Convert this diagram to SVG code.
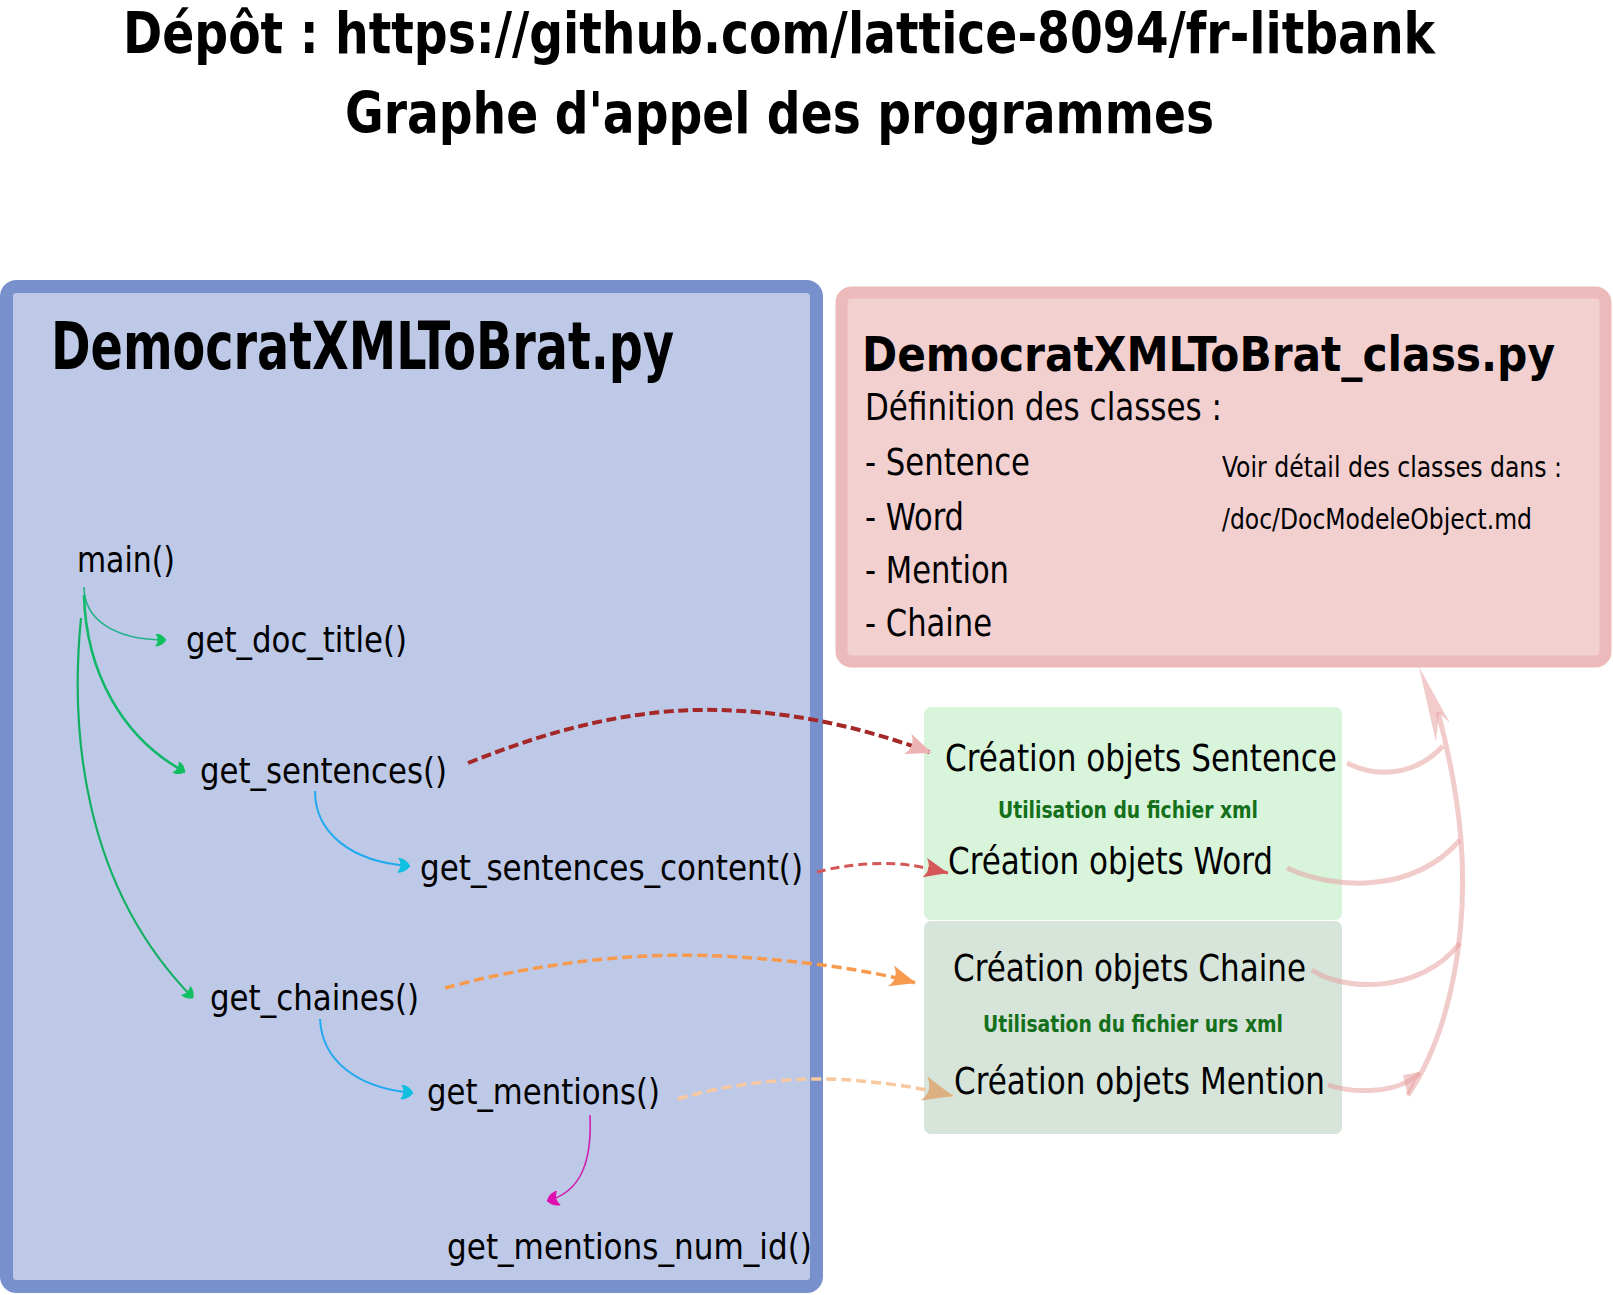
<svg xmlns="http://www.w3.org/2000/svg" width="1613" height="1295" viewBox="0 0 1613 1295">
<style>
text{font-family:"DejaVu Sans Condensed","DejaVu Sans","Liberation Sans",sans-serif;font-stretch:condensed;fill:#000}
.b{font-weight:bold}
.ttl{font-size:57px;font-weight:bold}
.fn{font-size:35px}
.cls{font-size:37px}
.sm{font-size:28px}
.cr{font-size:38px}
.ut{font-size:23px;font-weight:bold;fill:#14701a}
.thin{fill:none;stroke-linecap:butt}
.pink{fill:none;stroke:#e8a0a0;stroke-opacity:.55;stroke-width:5}
</style>
<defs>
<marker id="mSent" markerUnits="userSpaceOnUse" viewBox="-12 -6 12 12" refX="0" refY="0" markerWidth="26" markerHeight="26" orient="auto"><path d="M0,0 L-12,-5 Q-8,0 -12,5 Z" fill="#eeb4b4"/></marker>
<marker id="mWord" markerUnits="userSpaceOnUse" viewBox="-12 -6 12 12" refX="0" refY="0" markerWidth="24" markerHeight="24" orient="auto"><path d="M0,0 L-12,-5 Q-8,0 -12,5 Z" fill="#d45858"/></marker>
<marker id="mChaine" markerUnits="userSpaceOnUse" viewBox="-12 -6 12 12" refX="0" refY="0" markerWidth="26" markerHeight="26" orient="auto"><path d="M0,0 L-12,-5 Q-8,0 -12,5 Z" fill="#f89a4e"/></marker>
<marker id="mMention" markerUnits="userSpaceOnUse" viewBox="-12 -6 12 12" refX="0" refY="0" markerWidth="30" markerHeight="30" orient="auto"><path d="M0,0 L-12,-5 Q-8,0 -12,5 Z" fill="#dcb080"/></marker>
<marker id="mGreen" markerUnits="userSpaceOnUse" viewBox="-12 -6 12 12" refX="0" refY="0" markerWidth="13" markerHeight="13" orient="auto"><path d="M0,0 C-2,-4 -6,-6 -10,-6 C-7,-2 -7,2 -10,6 C-6,6 -2,4 0,0 Z" fill="#10c060"/></marker>
<marker id="mCyan" markerUnits="userSpaceOnUse" viewBox="-12 -6 12 12" refX="0" refY="0" markerWidth="15" markerHeight="15" orient="auto"><path d="M0,0 C-2,-4 -6,-6 -10,-6 C-7,-2 -7,2 -10,6 C-6,6 -2,4 0,0 Z" fill="#10c0e0"/></marker>
<marker id="mMag" markerUnits="userSpaceOnUse" viewBox="-12 -6 12 12" refX="0" refY="0" markerWidth="15" markerHeight="15" orient="auto"><path d="M0,0 C-2,-4 -6,-6 -10,-6 C-7,-2 -7,2 -10,6 C-6,6 -2,4 0,0 Z" fill="#e010b0"/></marker>
</defs>

<g id="title">
<text class="ttl" x="123" y="53" textLength="1312" lengthAdjust="spacingAndGlyphs">Dépôt : https://github.com/lattice-8094/fr-litbank</text>
<text class="ttl" x="345" y="133" textLength="869" lengthAdjust="spacingAndGlyphs">Graphe d'appel des programmes</text>
</g>

<g id="DemocratXMLToBrat">
<rect x="6.5" y="286.5" width="810" height="1000" rx="10" fill="#bec9e8" stroke="#7890cb" stroke-width="13"/>
<text class="b" x="51" y="369" font-size="66" textLength="623" lengthAdjust="spacingAndGlyphs">DemocratXMLToBrat.py</text>
</g>

<g id="DemocratXMLToBrat_class">
<rect x="841.5" y="292.5" width="764" height="369" rx="10" fill="#f2d0d0" stroke="#ecbaba" stroke-width="12"/>
<text class="b" x="862" y="371" font-size="48" textLength="693" lengthAdjust="spacingAndGlyphs">DemocratXMLToBrat_class.py</text>
<text class="cls" x="865" y="420" textLength="357" lengthAdjust="spacingAndGlyphs">Définition des classes :</text>
<text class="cls" x="865" y="475" textLength="165" lengthAdjust="spacingAndGlyphs">- Sentence</text>
<text class="cls" x="865" y="530" textLength="99" lengthAdjust="spacingAndGlyphs">- Word</text>
<text class="cls" x="865" y="583" textLength="144" lengthAdjust="spacingAndGlyphs">- Mention</text>
<text class="cls" x="865" y="636" textLength="127" lengthAdjust="spacingAndGlyphs">- Chaine</text>
<text class="sm" x="1222" y="477" textLength="340" lengthAdjust="spacingAndGlyphs">Voir détail des classes dans :</text>
<text class="sm" x="1222" y="529" textLength="310" lengthAdjust="spacingAndGlyphs">/doc/DocModeleObject.md</text>
</g>

<g id="creation-xml">
<rect x="924" y="707" width="418" height="213" rx="7" fill="#d8f5dc"/>
<text class="cr" x="945" y="771" textLength="392" lengthAdjust="spacingAndGlyphs">Création objets Sentence</text>
<text class="ut" x="998" y="818" textLength="260" lengthAdjust="spacingAndGlyphs">Utilisation du fichier xml</text>
<text class="cr" x="948" y="874" textLength="325" lengthAdjust="spacingAndGlyphs">Création objets Word</text>
</g>

<g id="creation-urs">
<rect x="924" y="921" width="418" height="213" rx="7" fill="#d6e4da"/>
<text class="cr" x="953" y="981" textLength="353" lengthAdjust="spacingAndGlyphs">Création objets Chaine</text>
<text class="ut" x="983" y="1032" textLength="300" lengthAdjust="spacingAndGlyphs">Utilisation du fichier urs xml</text>
<text class="cr" x="954" y="1094" textLength="371" lengthAdjust="spacingAndGlyphs">Création objets Mention</text>
</g>

<g id="fn-main"><text class="fn" x="77" y="572" textLength="98" lengthAdjust="spacingAndGlyphs">main()</text></g>
<g id="fn-get_doc_title"><text class="fn" x="186" y="652" textLength="221" lengthAdjust="spacingAndGlyphs">get_doc_title()</text></g>
<g id="fn-get_sentences"><text class="fn" x="200" y="783" textLength="247" lengthAdjust="spacingAndGlyphs">get_sentences()</text></g>
<g id="fn-get_sentences_content"><text class="fn" x="420" y="880" textLength="383" lengthAdjust="spacingAndGlyphs">get_sentences_content()</text></g>
<g id="fn-get_chaines"><text class="fn" x="210" y="1010" textLength="209" lengthAdjust="spacingAndGlyphs">get_chaines()</text></g>
<g id="fn-get_mentions"><text class="fn" x="427" y="1104" textLength="233" lengthAdjust="spacingAndGlyphs">get_mentions()</text></g>
<g id="fn-get_mentions_num_id"><text class="fn" x="447" y="1259" textLength="365" lengthAdjust="spacingAndGlyphs">get_mentions_num_id()</text></g>

<g id="connectors">
<path class="thin" d="M84,587 C84,618 112,640 166,640" stroke="#22b088" stroke-width="1.6" marker-end="url(#mGreen)"/>
<path class="thin" d="M84,595 C86,672 122,738 185,772" stroke="#12b86a" stroke-width="2.6" marker-end="url(#mGreen)"/>
<path class="thin" d="M81,618 C70,730 82,885 193,998" stroke="#10b060" stroke-width="2.2" marker-end="url(#mGreen)"/>
<path class="thin" d="M315,791 C315,832 350,862 410,866" stroke="#22aaee" stroke-width="2" marker-end="url(#mCyan)"/>
<path class="thin" d="M320,1019 C322,1060 356,1088 413,1093" stroke="#22aaee" stroke-width="2" marker-end="url(#mCyan)"/>
<path class="thin" d="M590,1115 C592,1160 582,1192 547,1201" stroke="#d020b0" stroke-width="1.6" marker-end="url(#mMag)"/>

<path class="thin" d="M468,763 C560,726 640,708 720,710 C800,712 870,730 932,753" stroke="#a52828" stroke-width="4" stroke-dasharray="10,4.5" marker-end="url(#mSent)"/>
<path class="thin" d="M817,872 C840,866 870,862 900,864 C920,866 935,870 948,873" stroke="#d45858" stroke-width="3" stroke-dasharray="9,5" marker-end="url(#mWord)"/>
<path class="thin" d="M445,988 C540,962 640,952 720,956 C800,960 870,970 916,983" stroke="#f89a4e" stroke-width="3.5" stroke-dasharray="10,5" marker-end="url(#mChaine)"/>
<path class="thin" d="M678,1099 C730,1083 800,1076 850,1080 C900,1084 930,1090 953,1096" stroke="#f8c8a0" stroke-width="3.5" stroke-dasharray="10,5" marker-end="url(#mMention)"/>

<path class="pink" d="M1347,763 C1372,776 1412,779 1443,746"/>
<path class="pink" d="M1287,868 C1332,889 1412,895 1460,840"/>
<path class="pink" d="M1312,970 C1342,991 1420,995 1460,943"/>
<path class="pink" d="M1328,1085 C1352,1093 1396,1095 1420,1073"/>
<path class="pink" stroke-width="6" d="M1408,1095 C1452,1030 1468,930 1461,840 C1457,790 1448,750 1438,712"/>
<polygon points="1419,667 1450,723 1439,713 1436,742" fill="#e8a0a0" fill-opacity=".55"/>
<polygon points="1403,1075 1420,1072 1408,1097" fill="#e8a0a0" fill-opacity=".55"/>
</g>
</svg>
